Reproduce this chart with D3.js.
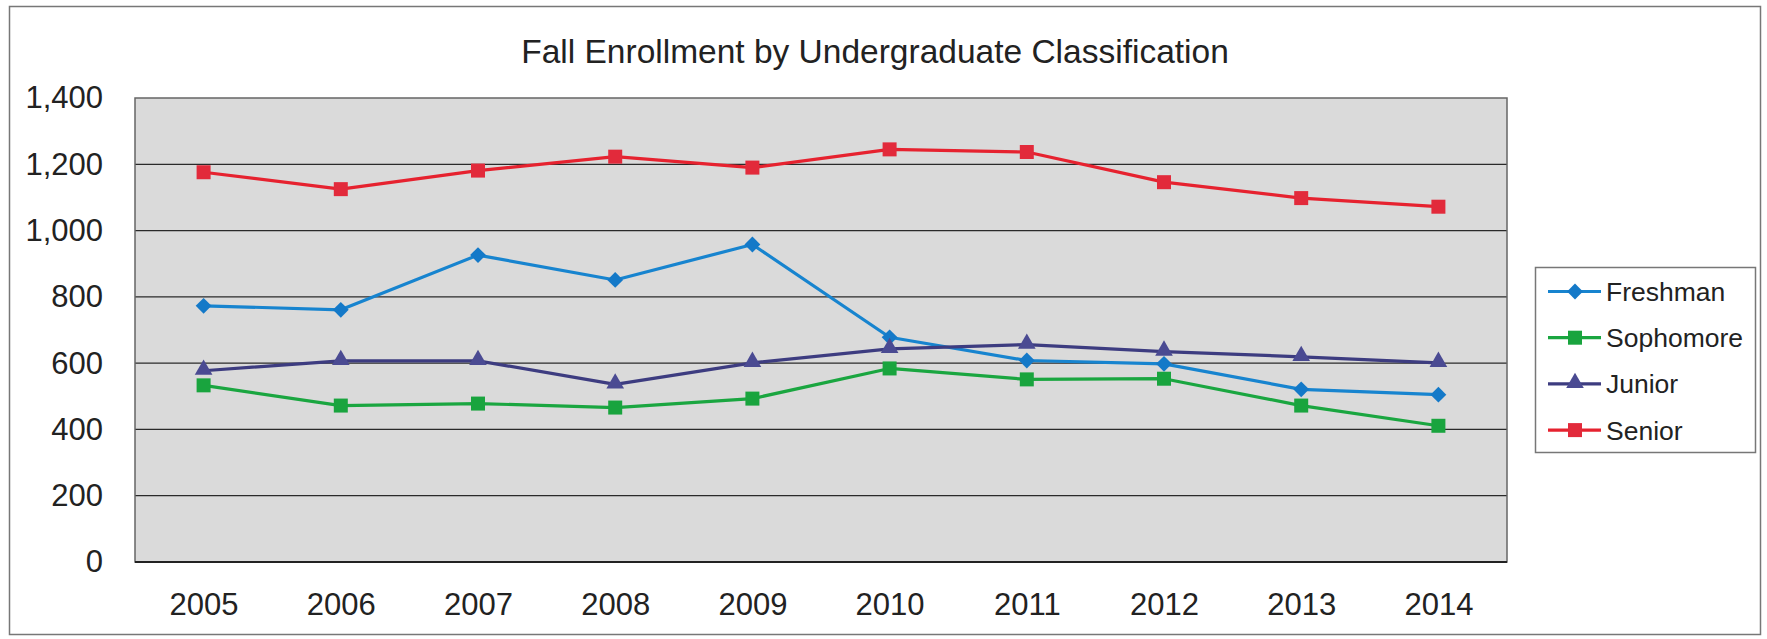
<!DOCTYPE html>
<html>
<head>
<meta charset="utf-8">
<script src="https://cdn.jsdelivr.net/npm/d3@7"></script>
<style>
  html, body { margin: 0; padding: 0; background: #fff; }
  svg { display: block; }
  text { font-family: "Liberation Sans", Arial, sans-serif; fill: #222; }
</style>
</head>
<body>
<svg id="chart" width="1767" height="639"></svg>
<script>
const title = "Fall Enrollment by Undergraduate Classification";
const years = ["2005","2006","2007","2008","2009","2010","2011","2012","2013","2014"];
const yTicks = [0, 200, 400, 600, 800, 1000, 1200, 1400];
const seriesNames = ["Freshman", "Sophomore", "Junior", "Senior"];
const freshman  = [773, 761, 926, 851, 958, 678, 608, 598, 521, 505];
const sophomore = [533, 472, 478, 466, 493, 584, 551, 553, 472, 411];
const junior    = [577, 607, 607, 536, 601, 643, 656, 635, 619, 601];
const senior    = [1176, 1125, 1181, 1223, 1190, 1245, 1237, 1146, 1098, 1072];

const seriesValues = [freshman, sophomore, junior, senior];
const colors = ["#1784cf", "#1aa640", "#3d3c80", "#e6222f"];
const markerColors = ["#1479c8", "#19a43e", "#4a4a92", "#e22a3b"];
const markerTypes = ["diamond", "square", "triangle", "square"];

function markerPath(type) {
  if (type === "diamond") return d3.symbol().type(d3.symbolSquare).size(125)();
  if (type === "triangle") return d3.symbol().type(d3.symbolTriangle).size(135)();
  return d3.symbol().type(d3.symbolSquare).size(196)();
}
function markerTransform(type, cx, cy) {
  if (type === "diamond") return `translate(${cx},${cy}) rotate(45)`;
  if (type === "triangle") return `translate(${cx},${cy - 1})`;
  return `translate(${cx},${cy})`;
}

const svg = d3.select("#chart");
const plot = { left: 135, right: 1507, top: 98, bottom: 562 };

// outer border
svg.append("rect")
  .attr("x", 9.5).attr("y", 6.5).attr("width", 1751).attr("height", 628)
  .attr("fill", "#fff").attr("stroke", "#777").attr("stroke-width", 1.5);

const x = d3.scalePoint().domain(years).range([plot.left, plot.right]).padding(0.5);
const y = d3.scaleLinear().domain([0, 1400]).range([plot.bottom, plot.top]);

// plot background
svg.append("rect")
  .attr("x", plot.left).attr("y", plot.top)
  .attr("width", plot.right - plot.left).attr("height", plot.bottom - plot.top)
  .attr("fill", "#dadada");

// gridlines
svg.append("g").selectAll("line").data(yTicks.filter(d => d > 0 && d < 1400)).join("line")
  .attr("x1", plot.left).attr("x2", plot.right)
  .attr("y1", d => y(d)).attr("y2", d => y(d))
  .attr("stroke", "#2a2a2a").attr("stroke-width", 1.3);

// plot border
svg.append("rect")
  .attr("x", plot.left).attr("y", plot.top)
  .attr("width", plot.right - plot.left).attr("height", plot.bottom - plot.top)
  .attr("fill", "none").attr("stroke", "#666").attr("stroke-width", 1.5);
svg.append("line")
  .attr("x1", plot.left).attr("x2", plot.right)
  .attr("y1", plot.bottom).attr("y2", plot.bottom)
  .attr("stroke", "#222").attr("stroke-width", 1.8);

// y axis
const yAxis = svg.append("g")
  .attr("transform", `translate(${plot.left},0)`)
  .call(d3.axisLeft(y).tickValues(yTicks).tickFormat(d3.format(",")).tickSize(0).tickPadding(32));
yAxis.select(".domain").remove();
yAxis.selectAll("text").style("font-size", "31px").attr("fill", "#222")
  .style("font-family", "'Liberation Sans', Arial, sans-serif");

// x axis
const xAxis = svg.append("g")
  .attr("transform", `translate(0,${plot.bottom})`)
  .call(d3.axisBottom(x).tickSize(0).tickPadding(31));
xAxis.select(".domain").remove();
xAxis.selectAll("text").style("font-size", "31px").attr("fill", "#222")
  .style("font-family", "'Liberation Sans', Arial, sans-serif");

// title
svg.append("text")
  .attr("x", 875).attr("y", 63)
  .attr("text-anchor", "middle")
  .style("font-size", "33.5px")
  .text(title);

// series
const line = d3.line().x((d, i) => x(years[i])).y(d => y(d));
seriesValues.forEach((vals, s) => {
  const g = svg.append("g");
  g.append("path")
    .attr("d", line(vals))
    .attr("fill", "none")
    .attr("stroke", colors[s])
    .attr("stroke-width", 3.2)
    .attr("stroke-linejoin", "round");
  g.selectAll("path.m").data(vals).join("path")
    .attr("class", "m")
    .attr("transform", (d, i) => markerTransform(markerTypes[s], x(years[i]), y(d)))
    .attr("d", markerPath(markerTypes[s]))
    .attr("fill", markerColors[s]);
});

// legend
const lg = svg.append("g");
lg.append("rect")
  .attr("x", 1535.5).attr("y", 267.5).attr("width", 220).attr("height", 185)
  .attr("fill", "#fff").attr("stroke", "#777").attr("stroke-width", 1.5);
seriesNames.forEach((name, s) => {
  const cy = 291.5 + s * 46.2;
  lg.append("line")
    .attr("x1", 1548).attr("x2", 1601).attr("y1", cy).attr("y2", cy)
    .attr("stroke", colors[s]).attr("stroke-width", 3.2);
  lg.append("path")
    .attr("transform", markerTransform(markerTypes[s], 1575, cy))
    .attr("d", markerPath(markerTypes[s]))
    .attr("fill", markerColors[s]);
  lg.append("text")
    .attr("x", 1606).attr("y", cy + 9.5)
    .style("font-size", "26.5px")
    .text(name);
});
</script>
</body>
</html>
